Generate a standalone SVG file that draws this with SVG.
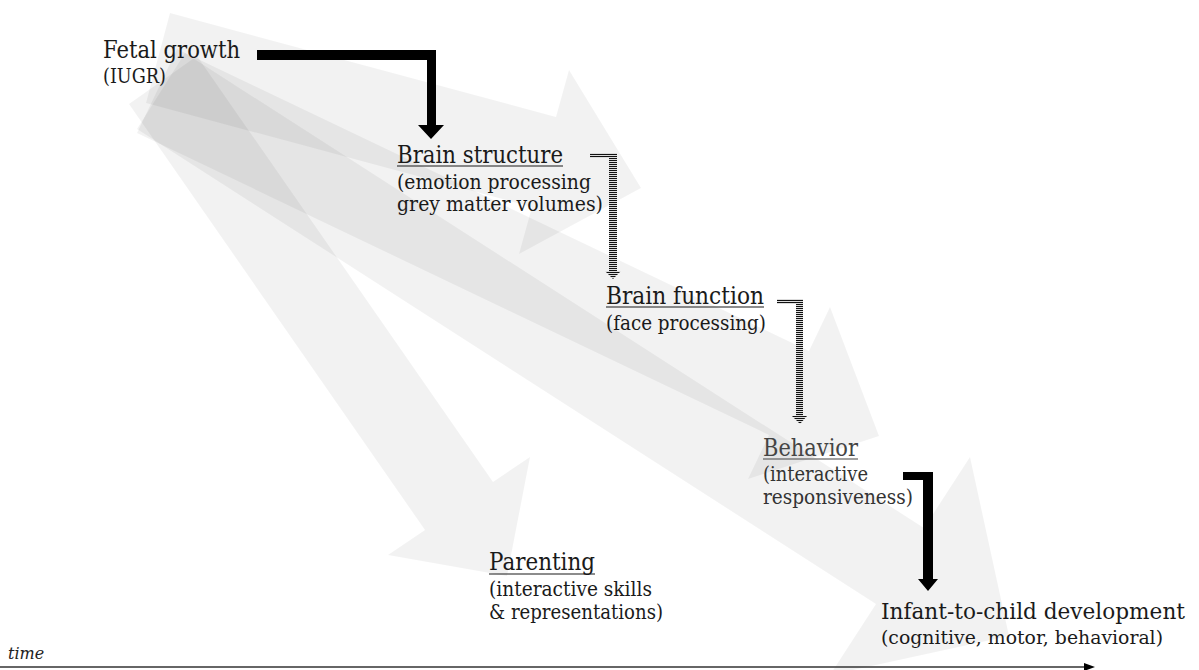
<svg xmlns="http://www.w3.org/2000/svg" width="1199" height="670" viewBox="0 0 1199 670">
<defs>
<style>
.t{font-family:"DejaVu Serif","Liberation Serif",serif;font-size:24px;fill:#1a1a1a}
.s{font-family:"DejaVu Serif","Liberation Serif",serif;font-size:20.5px;fill:#1a1a1a}
.ul{stroke:#1a1a1a;stroke-width:1.2}
.bg{fill:#000;fill-opacity:0.05}
.blk{fill:#000}
.str{fill:url(#stripes)}
</style>
<pattern id="stripes" width="4" height="2" patternUnits="userSpaceOnUse">
<rect width="4" height="2" fill="#ddd"/>
<rect width="4" height="1" fill="#111"/>
</pattern>
</defs>
<rect width="1199" height="670" fill="#fff"/>

<g id="background-arrows">
<polygon class="bg" points="170,13 556,117 569,70 641,188 519,254 532,207 146,103"/>
<polygon class="bg" points="177,49 809,351 830,307 879,436 748,479 769,435 137,133"/>
<polygon class="bg" points="185,53 924,528 970,457 1009,636 830,675 876,604 137,129"/>
<polygon class="bg" points="197,56 493,482 530,457 507,576 388,555 425,530 129,104"/>
</g>

<g id="connectors">
<polygon class="blk" points="257,50 436,50 436,125 444,125 431,139 418,125 427,125 427,60 257,60"/>
<polygon class="str" points="590,153 617,153 617,271 621,271 613,279 605,271 609,271 609,158 590,158"/>
<polygon class="str" points="777,299 803,299 803,416 807,416 800,424 792,416 796,416 796,304 777,304"/>
<polygon class="blk" points="903,472 933,472 933,579 938,579 928,591 918,579 923,579 923,480 903,480"/>
<line x1="0" y1="667" x2="1088" y2="667" stroke="#333" stroke-width="1.6"/>
<polygon class="blk" points="1084,663 1095,667 1084,671"/>
</g>

<g id="fetal-growth">
<text class="t" x="103" y="58" textLength="137" lengthAdjust="spacingAndGlyphs">Fetal growth</text>
<text class="s" x="103" y="83" textLength="63" lengthAdjust="spacingAndGlyphs">(IUGR)</text>
</g>

<g id="brain-structure">
<text class="t" x="397" y="163" textLength="166" lengthAdjust="spacingAndGlyphs">Brain structure</text>
<line class="ul" x1="397" y1="166" x2="563" y2="166"/>
<text class="s" x="397" y="189" textLength="194" lengthAdjust="spacingAndGlyphs">(emotion processing</text>
<text class="s" x="397" y="211" textLength="206" lengthAdjust="spacingAndGlyphs">grey matter volumes)</text>
</g>

<g id="brain-function">
<text class="t" x="606" y="304" textLength="158" lengthAdjust="spacingAndGlyphs">Brain function</text>
<line class="ul" x1="606" y1="307" x2="764" y2="307"/>
<text class="s" x="606" y="330" textLength="160" lengthAdjust="spacingAndGlyphs">(face processing)</text>
</g>

<g id="behavior">
<text class="t" x="763" y="456" textLength="95" lengthAdjust="spacingAndGlyphs" style="fill:#444">Behavior</text>
<line class="ul" x1="763" y1="459" x2="858" y2="459" style="stroke:#444"/>
<text class="s" x="763" y="481" textLength="105" lengthAdjust="spacingAndGlyphs" style="fill:#333">(interactive</text>
<text class="s" x="763" y="504" textLength="150" lengthAdjust="spacingAndGlyphs" style="fill:#333">responsiveness)</text>
</g>

<g id="parenting">
<text class="t" x="489" y="570" textLength="106" lengthAdjust="spacingAndGlyphs">Parenting</text>
<line class="ul" x1="489" y1="574" x2="595" y2="574"/>
<text class="s" x="489" y="596" textLength="163" lengthAdjust="spacingAndGlyphs">(interactive  skills</text>
<text class="s" x="489" y="619" textLength="174" lengthAdjust="spacingAndGlyphs">&amp; representations)</text>
</g>

<g id="infant-to-child-development">
<text class="t" x="881" y="619" textLength="304" lengthAdjust="spacingAndGlyphs" style="font-size:21.5px">Infant-to-child development</text>
<text class="s" x="881" y="644" textLength="282" lengthAdjust="spacingAndGlyphs" style="font-size:19px">(cognitive, motor, behavioral)</text>
</g>

<g id="time-label">
<text x="8" y="659" style="font-family:'DejaVu Serif','Liberation Serif',serif;font-style:italic;font-size:16px;fill:#222">time</text>
</g>
</svg>
